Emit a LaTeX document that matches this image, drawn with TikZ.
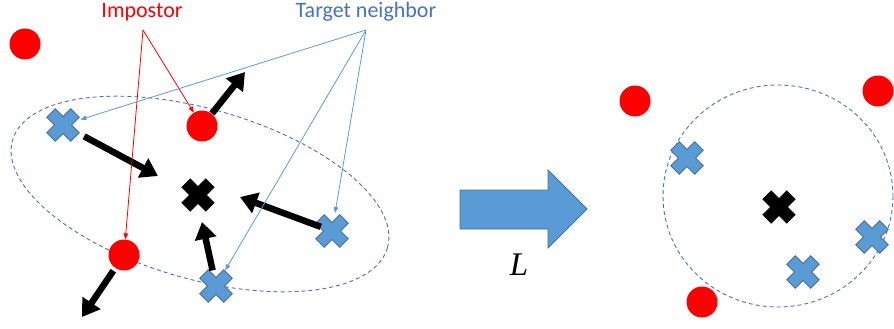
\documentclass[tikz,border=0pt]{standalone}
\usepackage{fontspec}
\setmainfont{Carlito}
\newfontfamily\mapfont{Liberation Serif}
\usetikzlibrary{arrows.meta}

\definecolor{impred}{RGB}{255,0,0}
\definecolor{crossfill}{RGB}{91,155,213}
\definecolor{crossedge}{RGB}{65,113,156}
\definecolor{tgtblue}{RGB}{68,114,196}
\definecolor{pointer}{RGB}{91,155,213}

% cross marker: name, centre, drawing style
\newcommand\placecross[3]{%
  \node[spot] (#1) at (#2) {};
  \draw[#3, shift={(#2)}, rotate=45]
    (-6,-17) -- (6,-17) -- (6,-6) -- (17,-6) -- (17,6) -- (6,6) -- (6,17)
    -- (-6,17) -- (-6,6) -- (-17,6) -- (-17,-6) -- (-6,-6) -- cycle;
}

\begin{document}
\begin{tikzpicture}[x=1pt, y=-1pt,
  dot/.style={circle, fill=impred, minimum size=31pt, inner sep=0pt},
  spot/.style={circle, minimum size=36pt, inner sep=0pt},
  bluecross/.style={fill=crossfill, draw=crossedge, line width=0.8pt, line join=miter},
  blackcross/.style={fill=black},
  bound/.style={draw=tgtblue, dashed, dash pattern=on 4pt off 3pt, line width=0.9pt},
  push/.style={line width=6.5pt, -{Triangle[length=17pt,width=21pt]}},
  impline/.style={draw=impred, line width=0.8pt, -{Triangle[length=6pt,width=4.5pt]}},
  tgtline/.style={draw=pointer, line width=0.8pt, -{Triangle[length=6pt,width=4.5pt]}},
  label/.style={font=\fontsize{22}{24}\selectfont, anchor=base, inner sep=0pt}]

\useasboundingbox (0,0) rectangle (894,329);

% neighbourhood boundaries
\draw[bound, rotate around={-16:(200,194)}] (200,194) ellipse [x radius=195, y radius=85];
\draw[bound] (778,196) ellipse [x radius=115, y radius=111];

% before the transform
\node[dot] (far)  at (25,44) {};
\node[dot] (imp1) at (202,126) {};
\node[dot] (imp2) at (124,255) {};
\placecross{cr1}{63,125}{bluecross}
\placecross{cr2}{216,286}{bluecross}
\placecross{cr3}{332,231}{bluecross}
\placecross{ctr}{198,195}{blackcross}

% pull / push directions
\coordinate (t1) at (245,72);
\coordinate (t2) at (158,176);
\coordinate (t3) at (240,197);
\coordinate (t4) at (202,222);
\coordinate (t5) at (82,317);
\draw[push, shorten <=16pt] (imp1.center) -- (t1);
\draw[push, shorten <=24pt] (cr1.center) -- (t2);
\draw[push, shorten <=12pt] (cr3.center) -- (t3);
\draw[push, shorten <=16pt] (cr2.center) -- (t4);
\draw[push, shorten <=19pt] (imp2.center) -- (t5);

% labels with their pointers
\node[label, text=impred] (implab) at (142,17.5) {Impostor};
\node[label, text=tgtblue] (tgtlab) at (366,17.5) {Target neighbor};
\coordinate (impsrc) at (143,30);
\coordinate (tgtsrc) at (366,30);
\draw[impline] (impsrc) -- (imp1);
\draw[impline] (impsrc) -- (imp2);
\draw[tgtline] (tgtsrc) -- (cr1);
\draw[tgtline] (tgtsrc) -- (cr3);
\draw[tgtline] (tgtsrc) -- (cr2);

% the learned map L
\draw[fill=crossfill, draw=crossedge, line width=0.8pt]
  (460,190) -- (548,190) -- (548,170) -- (587,209) -- (548,248) -- (548,229)
  -- (460,229) -- cycle;
\coordinate (map) at (523,209);
\node[anchor=base, inner sep=0pt, font=\mapfont\itshape\fontsize{33}{33}\selectfont] (maplab) at (519,275) {L};

% after the transform
\node[dot] (r1) at (635,101) {};
\node[dot] (r2) at (878,91) {};
\node[dot] (r3) at (702,302) {};
\placecross{rc1}{687,158}{bluecross}
\placecross{rc2}{803,272}{bluecross}
\placecross{rc3}{872,237}{bluecross}
\placecross{rctr}{779,207}{blackcross}
\end{tikzpicture}
\end{document}
